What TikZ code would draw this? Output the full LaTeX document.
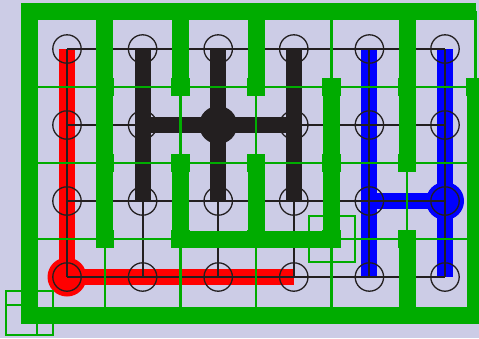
\documentclass[tikz,border=0pt]{standalone}
\usepackage{tikz}
\usepackage{xcolor}
\usetikzlibrary{calc,positioning}

\definecolor{board}{RGB}{204,204,230}
\definecolor{wall}{RGB}{0,172,0}
\definecolor{ink}{RGB}{35,31,32}

\begin{document}
\begin{tikzpicture}[
    x=1pt, y=-1pt,
    spot/.style={circle, draw=ink, line width=1.3pt, minimum size=28.4pt, inner sep=0pt},
    gridline/.style={draw=ink, line width=2pt, line cap=square},
    trail/.style={line width=16pt},
    thinwall/.style={draw=wall, line width=2.5pt},
    wall/.style={draw=wall, line width=17pt},
    post/.style={rectangle, fill=wall, minimum size=18.5pt, inner sep=0pt},
    cursor/.style={rectangle, draw=wall, line width=2pt, inner sep=0pt, minimum size=46.2pt}
]

% Board
\fill[board] (0,0) rectangle (479,338);
\useasboundingbox (0,0) rectangle (479,338);

% Points and wall corners
\foreach \i in {0,...,5} {
    \foreach \j in {0,...,3}
        \coordinate (p\i\j) at ({67+75.6*\i},{49+76*\j});
    \foreach \j in {0,...,4}
        \coordinate (w\i\j) at ({29.2+75.6*\i},{11+76*\j});
}
\foreach \j in {0,...,4}
    \coordinate (w6\j) at (475.5,{11+76*\j});

% Red group
\draw[trail, red] (p00) -- (p03) -- (p33);
\fill[red] (p03) circle (19.5pt);

% Dark group
\draw[trail, ink] (p10) -- (p12);
\draw[trail, ink] (p20) -- (p22);
\draw[trail, ink] (p30) -- (p32);
\draw[trail, ink] (p11) -- (p31);
\fill[ink] (p21) circle (19pt);

% Blue group
\draw[trail, blue] (p40) -- (p43);
\draw[trail, blue] (p50) -- (p53);
\draw[trail, blue] (p42) -- (p52);
\fill[blue] (p52) circle (19pt);

% Grid
\foreach \j in {0,...,3}
    \draw[gridline] (p0\j) -- (p5\j);
\foreach \i in {0,...,5}
    \draw[gridline] (p\i0) -- (p\i3);
\foreach \i in {0,...,5}
    \foreach \j in {0,...,3}
        \node[spot] (c\i\j) at (p\i\j) {};

% Thin fences
\foreach \j in {1,2,3}
    \draw[thinwall] (w0\j) -- (w6\j);
\foreach \i in {1,...,5}
    \draw[thinwall] (w\i0) -- (w\i4);
\draw[thinwall] (w60) -- (w61);

% Walls
\draw[wall, line cap=square] (w61) -- (w64) -- (w04) -- (w00) -- (w60);
\draw[wall] (w10) -- (w13);
\draw[wall] (w20) -- (w21);
\draw[wall] (w22) -- (w23) -- (w43) -- (w41);
\draw[wall] (w30) -- (w31);
\draw[wall] (w32) -- (w33);
\draw[wall] (w50) -- (w52);
\draw[wall] (w53) -- (w54);
\foreach \k in {11,12,13,21,22,23,31,32,33,41,42,43,51,52,53,61}
    \node[post] (b\k) at (w\k) {};

% Cursors
\node[cursor] (pick) at (w43) {};
\node[cursor, minimum height=43.5pt, minimum width=46.4pt] (corner) at (29.5,312.8) {};
\draw[draw=wall, line width=2pt] (corner.west |- 0,305) -- (36.7,305) -- (36.7,0 |- corner.south);

\end{tikzpicture}
\end{document}
